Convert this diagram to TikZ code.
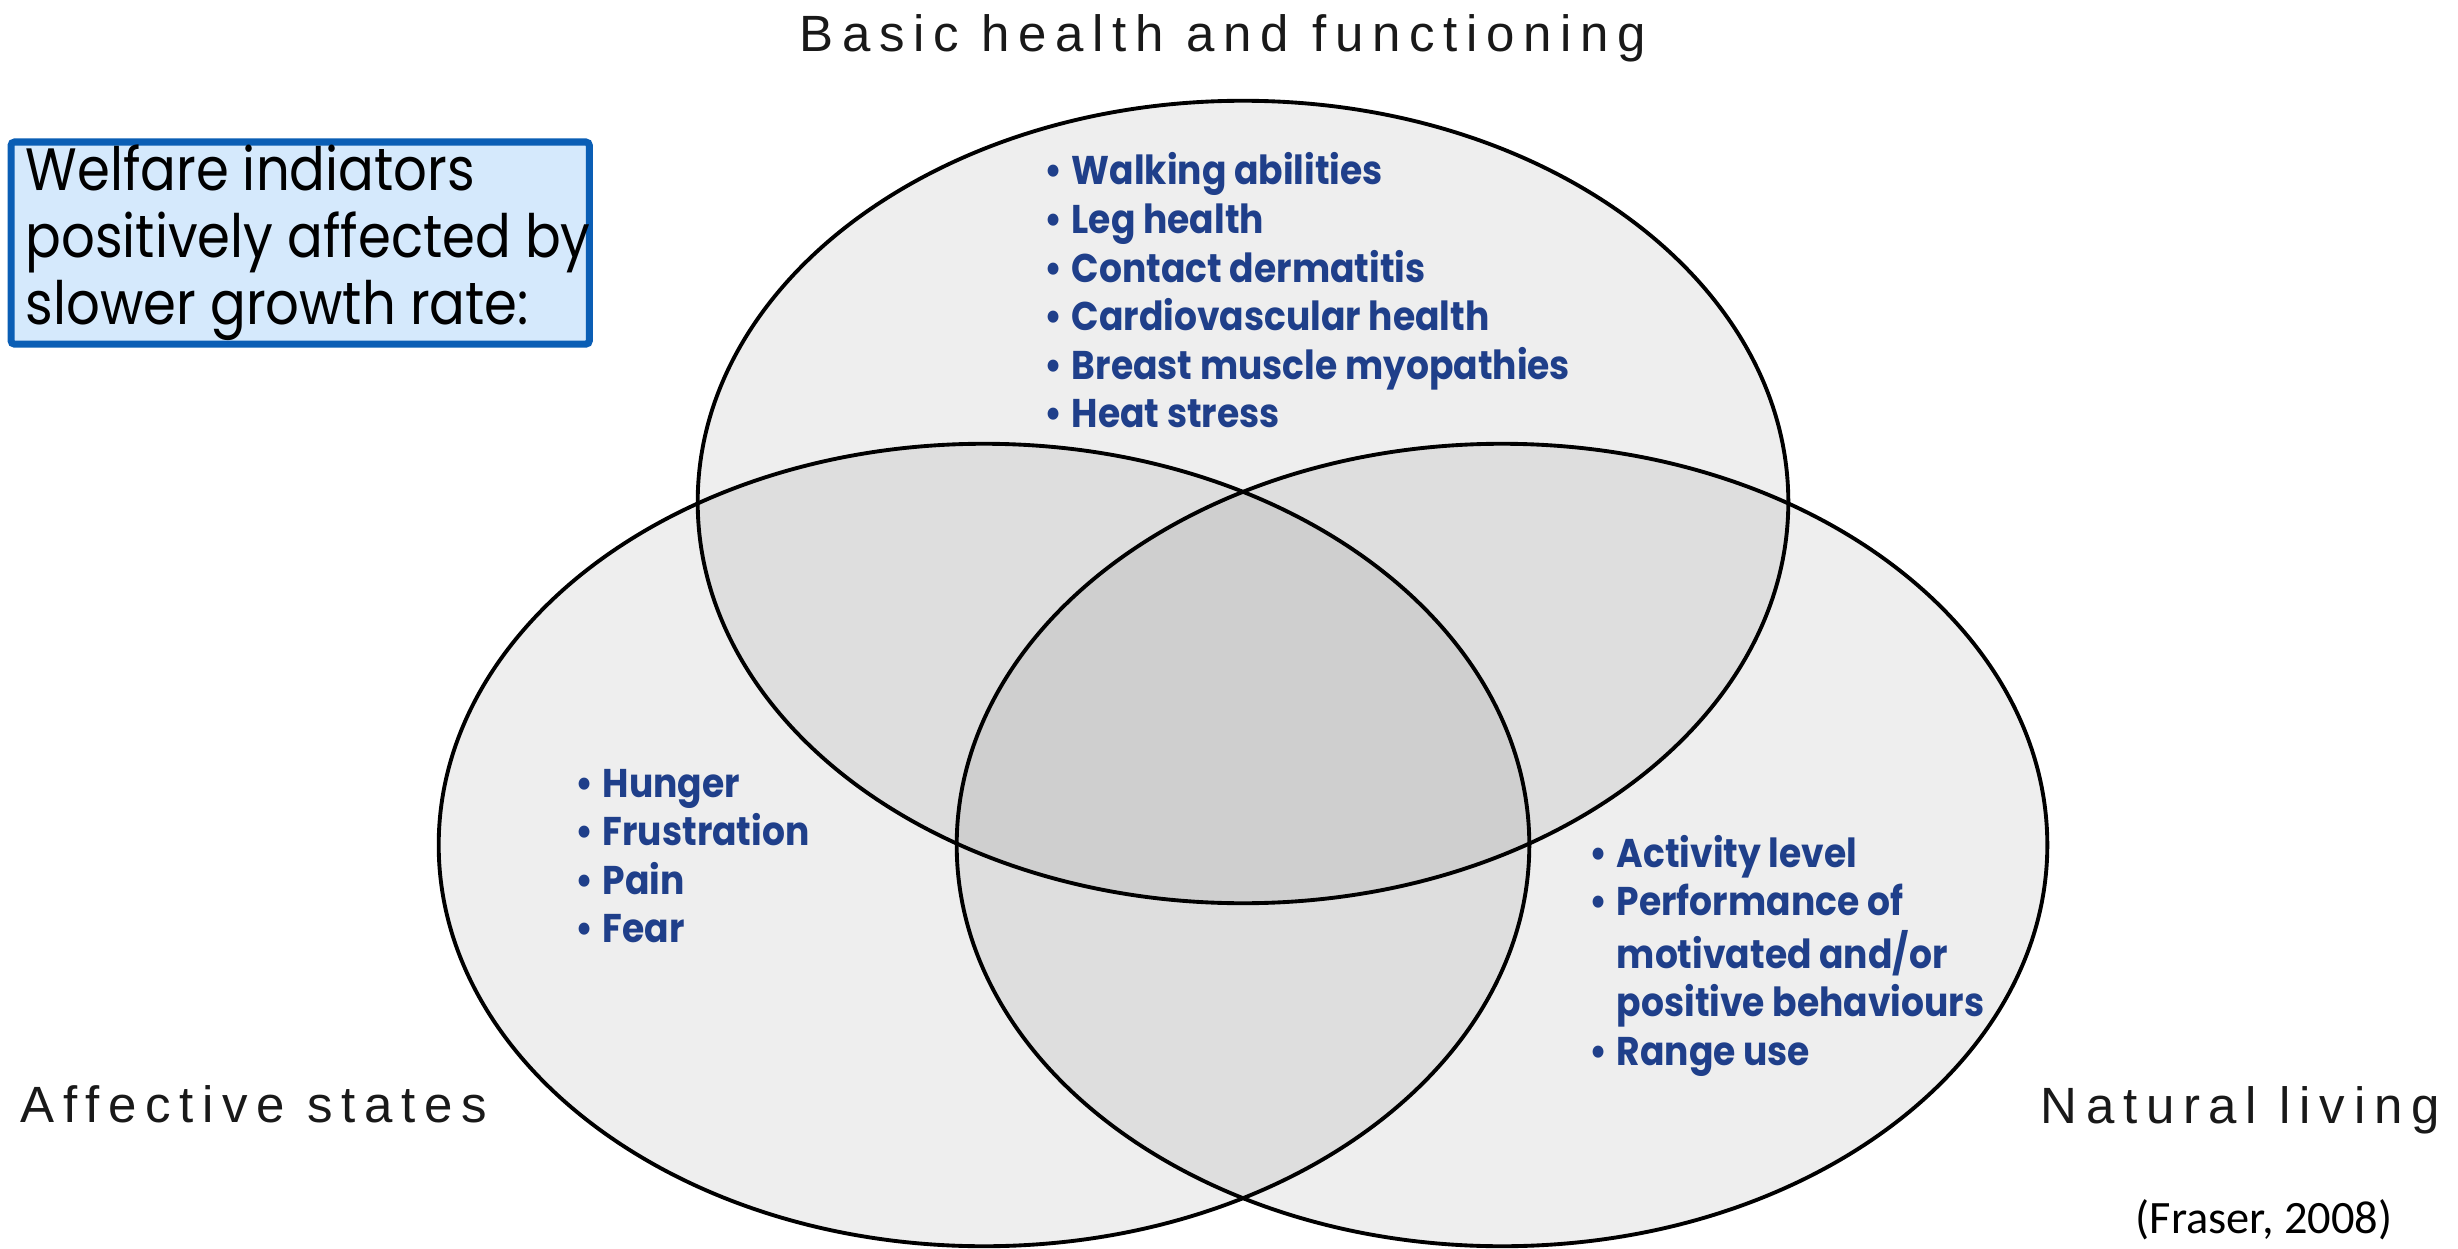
\documentclass[tikz,border=0pt]{standalone}
\usepackage{fontspec}
\setmainfont{Liberation Sans}
\newfontfamily\headfont{Liberation Sans}[LetterSpace=17]
\newfontfamily\boxfont{Poppins}[FakeStretch=0.885]
\newfontfamily\itemfont{Poppins}[FakeStretch=0.9]
\newfontfamily\citefont{Carlito}
\usetikzlibrary{shapes.geometric}
\definecolor{itemblue}{RGB}{31,63,138}
\definecolor{boxblue}{RGB}{10,94,181}
\definecolor{boxfill}{RGB}{213,233,252}
\newcommand{\bul}{\makebox[7.7pt][l]{\textbullet}}
\tikzset{
  venn/.style={ellipse, draw=black, line width=1.1pt, fill=black, fill opacity=0.068,
    draw opacity=1, minimum width=10.9cm, minimum height=8.02cm, inner sep=0pt},
  heading/.style={font=\headfont\fontsize{14.5pt}{16pt}\selectfont, text=black!90,
    inner sep=0pt, anchor=base west},
  items/.style={font=\itemfont\bfseries\fontsize{11.4pt}{13.8pt}\selectfont, text=itemblue,
    inner sep=0pt, anchor=base west},
  infobox/.style={draw=boxblue, fill=boxfill, line width=2pt, rounded corners=1pt,
    inner sep=0pt, anchor=north west, minimum width=5.78cm, minimum height=2.02cm}
}
\begin{document}
\begin{tikzpicture}[x=0.01cm, y=-0.01cm]
\fill[white] (0,0) rectangle (2458,1249);
\useasboundingbox (0,0) rectangle (2458,1249);
% the three circles of the welfare model
\node[venn] (basic) at (1243,502) {};
\node[venn] (affect) at (984,845) {};
\node[venn] (natural) at (1502,845) {};
%
\node[heading] (basiclabel) at (799,52) {Basic health and functioning};
\node[heading] (affectlabel) at (20,1122) {Affective states};
\node[heading] (naturallabel) at (2040,1123) {Natural living};
\node[font=\citefont\fontsize{13.2pt}{15pt}\selectfont, inner sep=0pt, anchor=base west] (cite) at (2135,1233) {(Fraser, 2008)};
%
\node[infobox] (intro) at (7.5,138.5) {};
\node[font=\boxfont\fontsize{17pt}{19pt}\selectfont, inner sep=0pt, anchor=base west] (introtext) at (25,191)
  {\begin{tabular}[t]{@{}l@{}}Welfare indiators\\ positively affected by\\ slower growth rate:\end{tabular}};
%
\node[items] (health) at (1044,185) {\begin{tabular}[t]{@{}l@{}l@{}}
  \bul & Walking abilities\\
  \bul & Leg health\\
  \bul & Contact dermatitis\\
  \bul & Cardiovascular health\\
  \bul & Breast muscle myopathies\\
  \bul & Heat stress
\end{tabular}};
\node[items] (states) at (575,797) {\begin{tabular}[t]{@{}l@{}l@{}}
  \bul & Hunger\\
  \bul & Frustration\\
  \bul & Pain\\
  \bul & Fear
\end{tabular}};
\node[items] (living) at (1589,867) {\begin{tabular}[t]{@{}l@{}l@{}}
  \bul & Activity level\\
  \bul & Performance of\\
       & motivated and/or\\
       & positive behaviours\\
  \bul & Range use
\end{tabular}};
\end{tikzpicture}
\end{document}
